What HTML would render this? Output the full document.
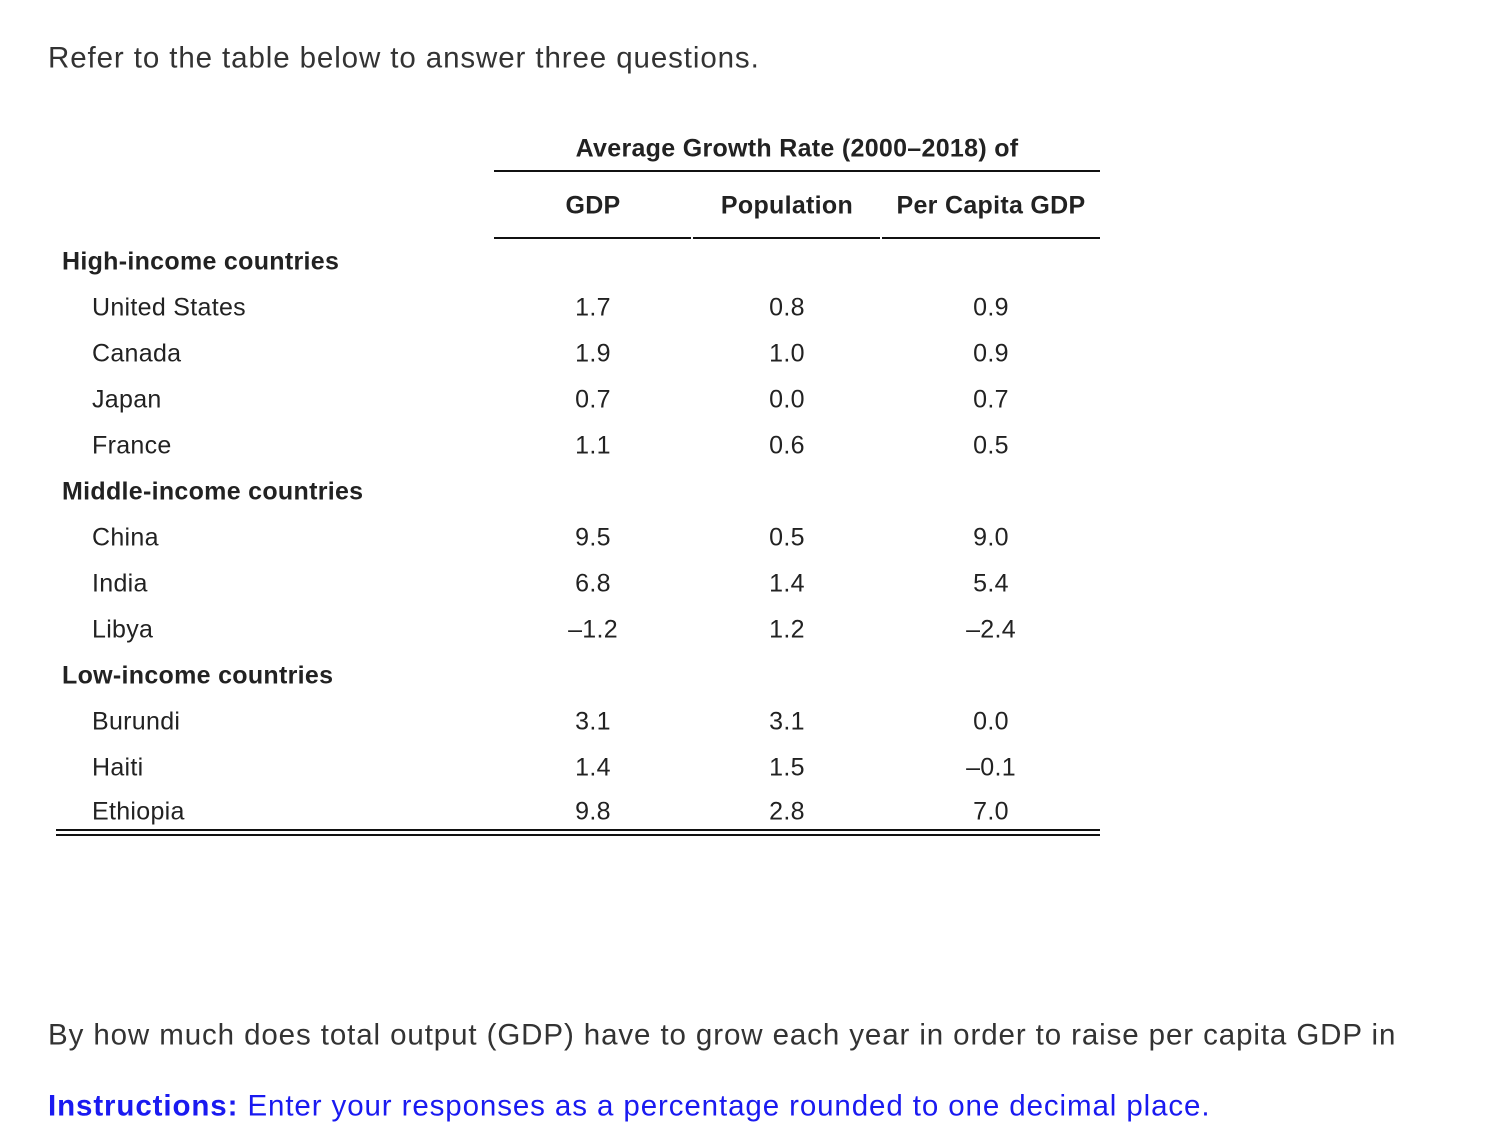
<!DOCTYPE html>
<html><head><meta charset="utf-8"><style>
body{margin:0;width:1492px;height:1148px;background:#fff;position:relative;overflow:hidden;font-family:"Liberation Sans",sans-serif;color:#222}
.t{position:absolute;white-space:nowrap;line-height:1}
.c{transform:translate(-50%,-50%)}
.l{transform:translateY(-50%)}
.ln{position:absolute;background:#111}
.p{font-size:29.5px;letter-spacing:0.9px}
</style></head><body>
<div class="t l p" style="left:48px;top:58px;color:#333">Refer to the table below to answer three questions.</div>
<div id="tbl"></div>
<div class="t l p" style="left:48px;top:1035px;color:#333">By how much does total output (GDP) have to grow each year in order to raise per capita GDP in</div>
<div class="t l p" style="left:48px;top:1106px;color:#1a1af0"><b>Instructions:</b> Enter your responses as a percentage rounded to one decimal place.</div>
<script>
const columns=["GDP","Population","Per Capita GDP"];
const groups=["High-income countries","Middle-income countries","Low-income countries"];
const countries=[["United States","Canada","Japan","France"],["China","India","Libya"],["Burundi","Haiti","Ethiopia"]];
const gdp=["1.7","1.9","0.7","1.1","9.5","6.8","–1.2","3.1","1.4","9.8"];
const pop=["0.8","1.0","0.0","0.6","0.5","1.4","1.2","3.1","1.5","2.8"];
const pcg=["0.9","0.9","0.7","0.5","9.0","5.4","–2.4","0.0","–0.1","7.0"];
const tbl=document.getElementById('tbl');
const colX=[593,787,991];
function txt(s,x,y,cls,extra,name){const d=document.createElement('div');d.className='t '+cls;d.textContent=s;d.style.left=x+'px';d.style.top=y+'px';d.style.fontSize='25px';d.style.letterSpacing='0.3px';if(extra)d.style.cssText+=extra;


tbl.appendChild(d);}
function line(x,y,w,h,name){const d=document.createElement('div');d.className='ln';d.style.left=x+'px';d.style.top=y+'px';d.style.width=w+'px';d.style.height=h+'px';


tbl.appendChild(d);}
txt("Average Growth Rate (2000–2018) of",797,149,'c','font-weight:bold','spanner-header');
line(494,170,606,2,'spanner-rule');
columns.forEach((c,i)=>txt(c,colX[i],206,'c','font-weight:bold','column-header'));
line(494,237,197,2,'header-rule');line(693,237,187,2,'header-rule');line(882,237,218,2,'header-rule');
let y=262,k=0;
groups.forEach((g,gi)=>{
 txt(g,62,y,'l','font-weight:bold','group-heading');
 y+=46;
 countries[gi].forEach(c=>{
  txt(c,92,y,'l','','country-label');
  txt(gdp[k],colX[0],y,'c','','gdp-value');
  txt(pop[k],colX[1],y,'c','','population-value');
  txt(pcg[k],colX[2],y,'c','','per-capita-value');
  k++;
  y+=(gi==2&&c=="Haiti")?44:46;
 });
});
line(56,829,1044,2,'bottom-rule-1');line(56,834,1044,2,'bottom-rule-2');
</script>
</body></html>
